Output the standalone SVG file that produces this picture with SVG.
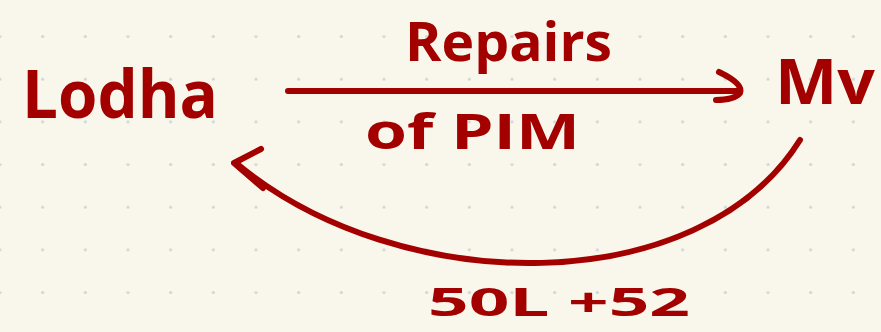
<svg xmlns="http://www.w3.org/2000/svg" width="881" height="332" viewBox="0 0 881 332">
  <defs>
    <pattern id="dots" patternUnits="userSpaceOnUse" x="-21.333" y="15.167" width="42.667" height="42.667">
      <circle cx="21.333" cy="21.333" r="1.6" fill="#d2d4da"/>
    </pattern>
    <style>
      .ink { fill: #a30000; font-family: "Open Sans", "Liberation Sans", sans-serif; font-weight: 700; }
      .line { fill: none; stroke: #a30000; stroke-width: 6; stroke-linecap: round; stroke-linejoin: round; }
    </style>
  </defs>
  <rect width="881" height="332" fill="#f9f6eb"/>
  <rect width="881" height="332" fill="url(#dots)"/>

  <g id="node-lodha">
    <text class="ink" x="22" y="118" font-size="66" textLength="196" lengthAdjust="spacingAndGlyphs">Lodha</text>
  </g>
  <g id="node-mv">
    <text class="ink" x="775" y="104" font-size="62" textLength="100" lengthAdjust="spacingAndGlyphs">Mv</text>
  </g>

  <g id="connectors">
    <g id="edge-repairs">
      <path class="line" d="M 288 91 L 738 91"/>
      <path class="line" d="M 719 72 Q 744 84 740 93 Q 734 100 716 100"/>
    </g>
    <g id="edge-payment">
      <path class="line" d="M 800 140 C 700 300, 400 300, 236 163"/>
      <path class="line" d="M 261 149 L 234 163 L 263 188"/>
    </g>
  </g>

  <g id="labels">
    <text class="ink" x="405" y="61" font-size="54" textLength="207" lengthAdjust="spacingAndGlyphs">Repairs</text>
    <text class="ink" x="365" y="149" font-size="48" textLength="215" lengthAdjust="spacingAndGlyphs">of PIM</text>
    <text class="ink" x="428" y="316" font-size="40" textLength="262" lengthAdjust="spacingAndGlyphs">50L +52</text>
  </g>
</svg>
